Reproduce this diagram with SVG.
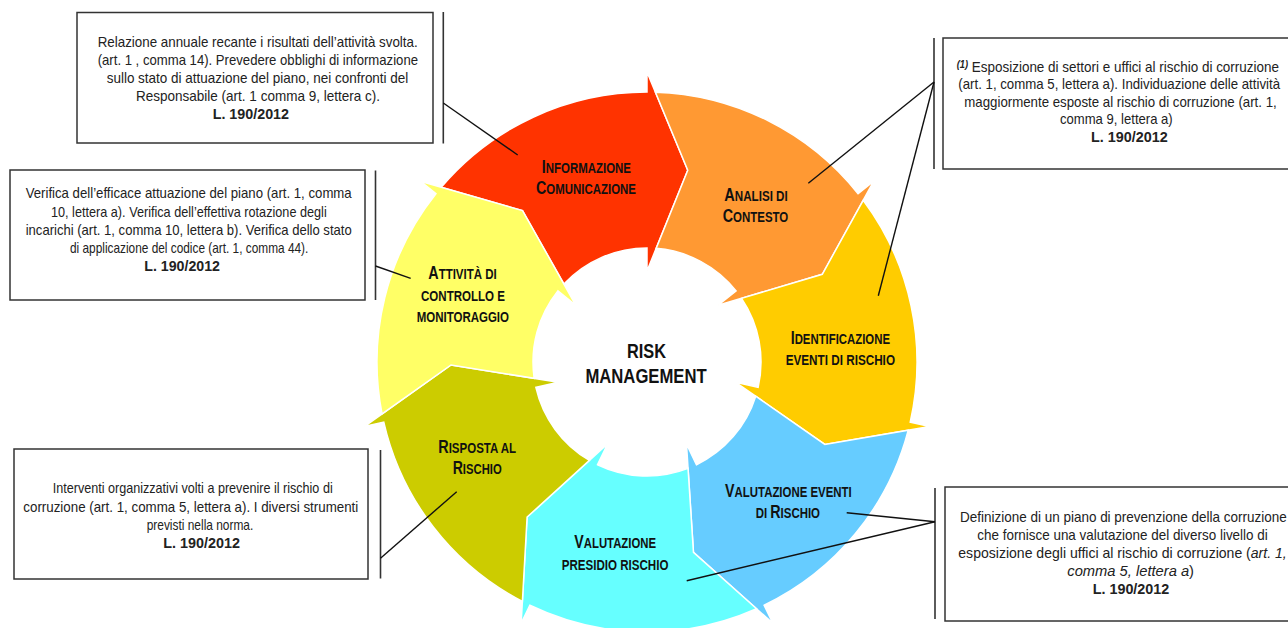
<svg xmlns="http://www.w3.org/2000/svg" xmlns:xlink="http://www.w3.org/1999/xlink" width="1288" height="628" viewBox="0 0 1288 628">
<style>
.seg{stroke:#ffffff;stroke-width:1.5;stroke-linejoin:miter}
.lbl{font-family:"Liberation Sans Narrow","Liberation Sans",Arial,sans-serif;font-weight:bold;font-size:14px;fill:#111111}
.lbl .L{font-size:17.5px}
.ctr{font-family:"Liberation Sans Narrow","Liberation Sans",Arial,sans-serif;font-weight:bold;font-size:21px;fill:#111111}
.box{fill:#ffffff;stroke:#333333;stroke-width:1.5}
.bt{font-family:"Liberation Sans Narrow","Liberation Sans",Arial,sans-serif;font-size:14.5px;fill:#222222}
.bt .b{font-weight:bold}
.conn line{stroke:#111111;stroke-width:1.4}
.conn .br{stroke:#333333;stroke-width:1.6}
</style>
<defs>
<path id="seg" d="M 8.35 -269.87 A 270 270 0 0 1 211.09 -168.34 L 226.73 -180.81 L 175.30 -87.67 L 71.15 -56.74 L 89.13 -71.08 A 114 114 0 0 0 9.16 -113.63 L 40.75 -191.72 Z"/>
</defs>
<rect width="1288" height="628" fill="#ffffff"/>

<g id="ring" transform="translate(647 362)">
<use xlink:href="#seg" href="#seg" class="seg" fill="#FF3300" transform="rotate(-51.4286)"/>
<use xlink:href="#seg" href="#seg" class="seg" fill="#FF9933" transform="rotate(0)"/>
<use xlink:href="#seg" href="#seg" class="seg" fill="#FFCC00" transform="rotate(51.4286)"/>
<use xlink:href="#seg" href="#seg" class="seg" fill="#66CCFF" transform="rotate(102.857)"/>
<use xlink:href="#seg" href="#seg" class="seg" fill="#66FFFF" transform="rotate(154.286)"/>
<use xlink:href="#seg" href="#seg" class="seg" fill="#CCCC00" transform="rotate(205.714)"/>
<use xlink:href="#seg" href="#seg" class="seg" fill="#FFFF66" transform="rotate(257.143)"/>
</g>

<g id="informazione">
<text class="lbl" x="541.7" y="173.3" textLength="89.3" lengthAdjust="spacingAndGlyphs"><tspan class="L">I</tspan>NFORMAZIONE</text>
<text class="lbl" x="536" y="194" textLength="100" lengthAdjust="spacingAndGlyphs"><tspan class="L">C</tspan>OMUNICAZIONE</text>
</g>
<g id="analisi">
<text class="lbl" x="724.3" y="201" textLength="63.4" lengthAdjust="spacingAndGlyphs"><tspan class="L">A</tspan>NALISI DI</text>
<text class="lbl" x="722.7" y="221.7" textLength="65.6" lengthAdjust="spacingAndGlyphs"><tspan class="L">C</tspan>ONTESTO</text>
</g>
<g id="identificazione">
<text class="lbl" x="790.7" y="344.3" textLength="99.3" lengthAdjust="spacingAndGlyphs"><tspan class="L">I</tspan>DENTIFICAZIONE</text>
<text class="lbl" x="785.7" y="365" textLength="109.3" lengthAdjust="spacingAndGlyphs">EVENTI DI RISCHIO</text>
</g>
<g id="valutazione-eventi">
<text class="lbl" x="725" y="496.7" textLength="126.7" lengthAdjust="spacingAndGlyphs"><tspan class="L">V</tspan>ALUTAZIONE EVENTI</text>
<text class="lbl" x="755.7" y="517.7" textLength="64.3" lengthAdjust="spacingAndGlyphs">DI <tspan class="L">R</tspan>ISCHIO</text>
</g>
<g id="valutazione-presidio">
<text class="lbl" x="574.3" y="548.3" textLength="81.7" lengthAdjust="spacingAndGlyphs"><tspan class="L">V</tspan>ALUTAZIONE</text>
<text class="lbl" x="561.7" y="570" textLength="106.7" lengthAdjust="spacingAndGlyphs">PRESIDIO RISCHIO</text>
</g>
<g id="risposta">
<text class="lbl" x="438.3" y="452.7" textLength="77.7" lengthAdjust="spacingAndGlyphs"><tspan class="L">R</tspan>ISPOSTA AL</text>
<text class="lbl" x="452.7" y="474" textLength="49" lengthAdjust="spacingAndGlyphs"><tspan class="L">R</tspan>ISCHIO</text>
</g>
<g id="attivita">
<text class="lbl" x="428.3" y="279" textLength="68.4" lengthAdjust="spacingAndGlyphs"><tspan class="L">A</tspan>TTIVITÀ DI</text>
<text class="lbl" x="421" y="300.7" textLength="84" lengthAdjust="spacingAndGlyphs">CONTROLLO E</text>
<text class="lbl" x="416.7" y="321.7" textLength="92.3" lengthAdjust="spacingAndGlyphs">MONITORAGGIO</text>
</g>
<g id="risk-management">
<text class="ctr" x="627" y="358.3" textLength="39" lengthAdjust="spacingAndGlyphs">RISK</text>
<text class="ctr" x="585.4" y="383.3" textLength="121.3" lengthAdjust="spacingAndGlyphs">MANAGEMENT</text>
</g>

<g id="box-relazione">
<rect class="box" x="77" y="12.5" width="356" height="130.5"/>
<text class="bt" x="97.7" y="47" textLength="320" lengthAdjust="spacingAndGlyphs">Relazione annuale recante i risultati dell’attività svolta.</text>
<text class="bt" x="97.7" y="65" textLength="320.3" lengthAdjust="spacingAndGlyphs">(art. 1 , comma 14). Prevedere obblighi di informazione</text>
<text class="bt" x="106.7" y="83" textLength="301.6" lengthAdjust="spacingAndGlyphs">sullo stato di attuazione del piano, nei confronti del</text>
<text class="bt" x="136" y="101" textLength="244" lengthAdjust="spacingAndGlyphs">Responsabile (art. 1 comma 9, lettera c).</text>
<text class="bt" x="212.7" y="118.5" textLength="76.3" lengthAdjust="spacingAndGlyphs"><tspan class="b">L. 190/2012</tspan></text>
</g>

<g id="box-esposizione">
<rect class="box" x="943" y="38" width="353" height="131"/>
<text class="bt" x="956.7" y="71.7" textLength="322.3" lengthAdjust="spacingAndGlyphs"><tspan font-style="italic" font-weight="bold" font-size="10" dy="-4">(1)</tspan><tspan dy="4"> Esposizione di settori e uffici al rischio di corruzione</tspan></text>
<text class="bt" x="958.3" y="89.3" textLength="321.7" lengthAdjust="spacingAndGlyphs">(art. 1, comma 5, lettera a). Individuazione delle attività</text>
<text class="bt" x="964.3" y="106.7" textLength="312.4" lengthAdjust="spacingAndGlyphs">maggiormente esposte al rischio di corruzione (art. 1,</text>
<text class="bt" x="1060" y="124.3" textLength="112.7" lengthAdjust="spacingAndGlyphs">comma 9, lettera a)</text>
<text class="bt" x="1091" y="141.7" textLength="76.7" lengthAdjust="spacingAndGlyphs"><tspan class="b">L. 190/2012</tspan></text>
</g>

<g id="box-verifica">
<rect class="box" x="10" y="170" width="355" height="130"/>
<text class="bt" x="25.7" y="198.3" textLength="326" lengthAdjust="spacingAndGlyphs">Verifica dell’efficace attuazione del piano (art. 1, comma</text>
<text class="bt" x="51" y="216.7" textLength="275.7" lengthAdjust="spacingAndGlyphs">10, lettera a). Verifica dell’effettiva rotazione degli</text>
<text class="bt" x="25.7" y="235" textLength="326" lengthAdjust="spacingAndGlyphs">incarichi (art. 1, comma 10, lettera b). Verifica dello stato</text>
<text class="bt" x="70" y="253.3" textLength="238.3" lengthAdjust="spacingAndGlyphs">di applicazione del codice (art. 1, comma 44).</text>
<text class="bt" x="144.3" y="270.5" textLength="75.7" lengthAdjust="spacingAndGlyphs"><tspan class="b">L. 190/2012</tspan></text>
</g>

<g id="box-interventi">
<rect class="box" x="14" y="449" width="354" height="130"/>
<text class="bt" x="52.7" y="492.7" textLength="280" lengthAdjust="spacingAndGlyphs">Interventi organizzativi volti a prevenire il rischio di</text>
<text class="bt" x="23.3" y="511.7" textLength="335" lengthAdjust="spacingAndGlyphs">corruzione (art. 1, comma 5, lettera a). I diversi strumenti</text>
<text class="bt" x="146.7" y="529.5" textLength="106.6" lengthAdjust="spacingAndGlyphs">previsti nella norma.</text>
<text class="bt" x="163.3" y="548.3" textLength="76.7" lengthAdjust="spacingAndGlyphs"><tspan class="b">L. 190/2012</tspan></text>
</g>

<g id="box-definizione">
<rect class="box" x="945" y="487" width="351" height="134"/>
<text class="bt" x="960" y="521.7" textLength="326.7" lengthAdjust="spacingAndGlyphs">Definizione di un piano di prevenzione della corruzione</text>
<text class="bt" x="977.3" y="540" textLength="290.4" lengthAdjust="spacingAndGlyphs">che fornisce una valutazione del diverso livello di</text>
<text class="bt" x="958.3" y="558.3" textLength="328.4" lengthAdjust="spacingAndGlyphs">esposizione degli uffici al rischio di corruzione (<tspan font-style="italic">art. 1,</tspan></text>
<text class="bt" x="1067.3" y="576" textLength="126.7" lengthAdjust="spacingAndGlyphs"><tspan font-style="italic">comma 5, lettera a</tspan>)</text>
<text class="bt" x="1092.7" y="594.3" textLength="76.6" lengthAdjust="spacingAndGlyphs"><tspan class="b">L. 190/2012</tspan></text>
</g>

<g id="connectors" class="conn">
<line class="br" x1="443.3" y1="12" x2="443.3" y2="143.5"/>
<line x1="443.3" y1="103" x2="517.7" y2="155"/>
<line class="br" x1="934" y1="38" x2="934" y2="169"/>
<line x1="934" y1="82" x2="808.3" y2="183.3"/>
<line x1="934" y1="82" x2="878.3" y2="295.7"/>
<line class="br" x1="375.5" y1="170.5" x2="375.5" y2="300"/>
<line x1="375.5" y1="266" x2="410.7" y2="278.3"/>
<line class="br" x1="380.5" y1="450" x2="380.5" y2="578.5"/>
<line x1="380.5" y1="558.3" x2="456.7" y2="491.7"/>
<line class="br" x1="935" y1="488" x2="935" y2="619"/>
<line x1="935" y1="521.7" x2="846.7" y2="512.7"/>
<line x1="935" y1="521.7" x2="686.7" y2="580.7"/>
</g>
</svg>
